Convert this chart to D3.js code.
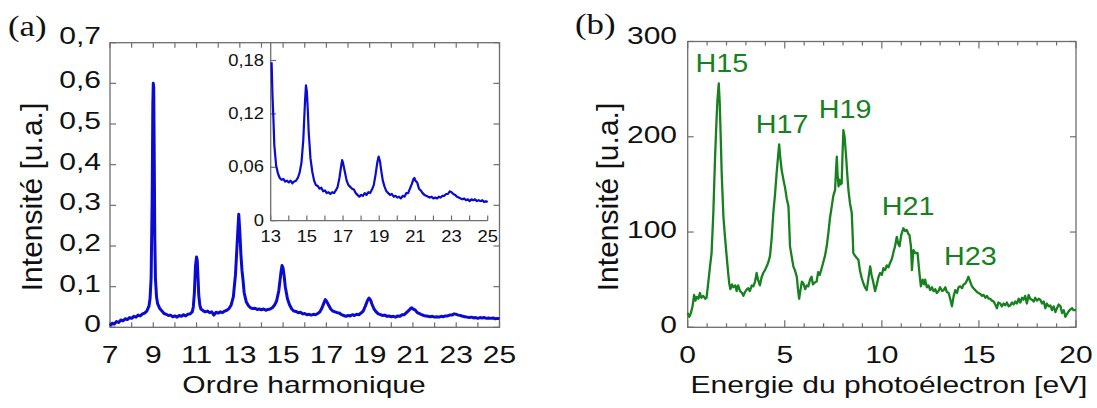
<!DOCTYPE html>
<html><head><meta charset="utf-8">
<script src="https://cdn.jsdelivr.net/npm/d3@7"></script>
<style>body{margin:0;background:#fff}svg{display:block}text{font-family:Arial,"Liberation Sans",sans-serif}</style>
</head><body><svg id="c" width="1097" height="408"></svg>
<script>
// ---------- data ----------
const harmX = [7.0,7.1,7.2,7.3,7.4,7.5,7.6,7.7,7.8,7.9,8.0,8.1,8.2,8.3,8.4,8.5,8.6,8.7,8.8,8.85,8.9,8.95,8.98,9.0,9.02,9.04,9.07,9.1,9.15,9.2,9.3,9.4,9.5,9.6,9.7,9.8,9.9,10.0,10.1,10.2,10.3,10.4,10.5,10.6,10.7,10.8,10.85,10.9,10.95,11.0,11.03,11.07,11.1,11.15,11.2,11.3,11.4,11.5,11.6,11.7,11.8,11.9,12.0,12.1,12.2,12.3,12.4,12.5,12.6,12.7,12.8,12.9,12.95,13.0,13.05,13.1,13.15,13.2,13.3,13.4,13.5,13.6,13.7,13.8,13.9,14.0,14.1,14.2,14.3,14.4,14.5,14.6,14.7,14.8,14.9,14.95,15.0,15.05,15.1,15.2,15.3,15.4,15.5,15.6,15.7,15.8,15.9,16.0,16.1,16.2,16.3,16.4,16.5,16.6,16.7,16.8,16.9,16.95,17.0,17.1,17.2,17.3,17.4,17.5,17.6,17.7,17.8,17.9,18.0,18.1,18.2,18.3,18.4,18.5,18.6,18.7,18.8,18.9,18.97,19.05,19.1,19.2,19.3,19.4,19.5,19.6,19.7,19.8,19.9,20.0,20.1,20.2,20.3,20.4,20.5,20.6,20.7,20.8,20.9,20.95,21.0,21.1,21.2,21.3,21.4,21.5,21.6,21.7,21.8,21.9,22.0,22.1,22.2,22.3,22.4,22.5,22.6,22.7,22.8,22.9,23.0,23.1,23.2,23.3,23.4,23.5,23.6,23.7,23.8,23.9,24.0,24.1,24.2,24.3,24.4,24.5,24.6,24.7,24.8,24.9,25.0];
const harmY = [0.004,0.010,0.008,0.014,0.012,0.018,0.016,0.021,0.019,0.024,0.022,0.027,0.025,0.030,0.028,0.033,0.035,0.040,0.052,0.07,0.12,0.32,0.55,0.60,0.59,0.45,0.22,0.12,0.075,0.058,0.046,0.040,0.034,0.032,0.029,0.030,0.026,0.028,0.025,0.029,0.027,0.031,0.028,0.032,0.033,0.038,0.05,0.085,0.15,0.173,0.165,0.12,0.08,0.055,0.045,0.041,0.038,0.040,0.036,0.038,0.030,0.037,0.035,0.038,0.036,0.040,0.042,0.046,0.055,0.075,0.13,0.23,0.278,0.235,0.178,0.14,0.115,0.085,0.062,0.053,0.048,0.046,0.047,0.044,0.045,0.043,0.045,0.042,0.044,0.045,0.048,0.054,0.065,0.09,0.135,0.152,0.145,0.125,0.1,0.07,0.055,0.045,0.040,0.039,0.036,0.037,0.033,0.034,0.031,0.032,0.030,0.032,0.031,0.034,0.038,0.048,0.062,0.068,0.065,0.055,0.045,0.040,0.038,0.036,0.035,0.031,0.029,0.027,0.029,0.028,0.031,0.029,0.032,0.031,0.035,0.040,0.052,0.066,0.072,0.066,0.058,0.045,0.038,0.033,0.031,0.029,0.030,0.027,0.028,0.026,0.027,0.025,0.028,0.027,0.031,0.031,0.036,0.041,0.047,0.048,0.045,0.043,0.036,0.034,0.031,0.029,0.028,0.027,0.026,0.027,0.025,0.026,0.025,0.027,0.026,0.028,0.028,0.030,0.030,0.033,0.032,0.030,0.029,0.027,0.026,0.025,0.024,0.025,0.023,0.024,0.022,0.024,0.023,0.024,0.022,0.023,0.022,0.023,0.021,0.022,0.021];

const energyX = [0.0,0.08,0.15,0.25,0.33,0.4,0.46,0.55,0.63,0.7,0.8,0.9,0.97,1.05,1.15,1.23,1.32,1.41,1.48,1.53,1.6,1.65,1.7,1.75,1.84,1.92,2.01,2.08,2.14,2.2,2.28,2.35,2.45,2.52,2.6,2.7,2.8,2.87,2.95,3.05,3.12,3.2,3.3,3.38,3.47,3.55,3.62,3.72,3.8,3.89,3.98,4.07,4.15,4.24,4.33,4.41,4.5,4.58,4.65,4.71,4.76,4.84,4.93,5.02,5.1,5.19,5.27,5.35,5.44,5.52,5.62,5.68,5.74,5.8,5.88,5.96,6.05,6.13,6.21,6.3,6.38,6.45,6.55,6.64,6.72,6.8,6.9,6.98,7.07,7.16,7.25,7.33,7.42,7.5,7.59,7.64,7.68,7.72,7.77,7.81,7.87,7.93,7.98,8.02,8.08,8.16,8.22,8.28,8.36,8.45,8.5,8.53,8.62,8.7,8.79,8.87,8.96,9.05,9.13,9.22,9.3,9.4,9.47,9.55,9.65,9.74,9.83,9.91,10.0,10.08,10.17,10.25,10.34,10.43,10.52,10.6,10.68,10.77,10.84,10.91,11.0,11.11,11.2,11.29,11.36,11.42,11.5,11.55,11.6,11.63,11.72,11.84,11.92,12.01,12.1,12.18,12.23,12.32,12.4,12.49,12.58,12.66,12.75,12.83,12.92,13.0,13.1,13.18,13.27,13.35,13.44,13.52,13.61,13.7,13.78,13.87,13.95,14.04,14.13,14.21,14.3,14.38,14.46,14.55,14.64,14.72,14.81,14.9,14.98,15.07,15.16,15.24,15.33,15.41,15.5,15.58,15.67,15.76,15.84,15.93,16.0,16.1,16.18,16.27,16.35,16.44,16.53,16.62,16.7,16.79,16.87,16.96,17.05,17.13,17.22,17.3,17.38,17.47,17.56,17.64,17.73,17.82,17.9,17.99,18.08,18.16,18.25,18.34,18.42,18.5,18.59,18.68,18.76,18.85,18.94,19.02,19.11,19.2,19.28,19.37,19.45,19.54,19.63,19.72,19.8,19.87,20.0];
const energyY = [15,11,14,22,34,28,32,30,36,31,33,30,31,45,64,78,120,179,215,238,256,235,200,162,116,95,74,58,46,40,45,42,44,38,44,38,36,33,37,40,41,38,44,43,48,57,50,44,52,57,60,64,68,75,95,120,140,162,178,192,180,165,155,146,135,127,85,75,64,60,53,40,30,38,48,46,40,44,43,50,53,45,47,48,58,55,62,68,75,85,100,115,127,138,144,165,179,160,148,155,150,151,185,207,200,179,160,144,130,120,95,78,75,73,71,60,52,46,42,39,50,64,55,48,38,45,53,57,55,62,60,65,63,68,72,79,85,95,88,85,97,104,101,102,98,97,85,60,75,81,78,78,60,43,50,45,50,42,44,39,42,38,40,36,38,42,38,39,42,37,36,30,22,33,39,36,42,43,41,45,46,49,53,48,43,41,39,37,36,35,33,34,31,33,30,30,28,27,24,20,26,25,22,25,23,26,22,23,26,24,27,25,30,26,31,29,33,25,34,30,29,27,31,28,30,29,25,27,20,25,22,23,18,22,16,20,24,22,15,18,11,14,17,19,20,18,18];

const harmTickLabels = [7,9,11,13,15,17,19,21,23,25];
const intensTickLabelsA = ["0","0,1","0,2","0,3","0,4","0,5","0,6","0,7"];
const insetXLabels = [13,15,17,19,21,23,25];
const insetYTicks = [0,0.06,0.12,0.18];
const insetYLabels = ["0","0,06","0,12","0,18"];
const energyTickLabels = [0,5,10,15,20];
const intensTickLabelsB = [0,100,200,300];
const peakNames = ["H15","H17","H19","H21","H23"];
const peakNamePos = [[0.4,268],[3.5,204],[6.75,220],[10.0,118],[13.2,65]];

// ---------- drawing ----------
const svg = d3.select("#c");
const FRAME = "#6e6e6e";
const BLUE = "#0a0ad2";
const GREEN = "#17801f";
const SX = 1.25;

function hText(g, x, y, str, size, anchor, sx, color, family){
  const t = g.append("text").attr("transform",`translate(${x},${y}) scale(${sx},1)`)
    .attr("text-anchor",anchor).attr("font-size",size).attr("fill",color||"#111").text(str);
  if(family) t.style("font-family",family);
  return t;
}

function frameAxes(g, x, y, xMinorStep, yTicks, opts){
  const [x0,x1] = x.range(), [y0,y1] = y.range();
  g.append("rect").attr("x",x0).attr("y",y1).attr("width",x1-x0).attr("height",y0-y1)
    .attr("fill","none").attr("stroke",FRAME).attr("stroke-width",1.3);
  const xd = x.domain();
  const minor = d3.range(xd[0], xd[1]+1e-9, xMinorStep);
  minor.forEach(v=>{
    const L = opts.majorEvery && Math.abs(v/opts.majorEvery - Math.round(v/opts.majorEvery))<1e-6 ? opts.majorLen : opts.minorLen;
    g.append("line").attr("x1",x(v)).attr("x2",x(v)).attr("y1",y0).attr("y2",y0-L).attr("stroke",FRAME).attr("stroke-width",1.2);
    g.append("line").attr("x1",x(v)).attr("x2",x(v)).attr("y1",y1).attr("y2",y1+L).attr("stroke",FRAME).attr("stroke-width",1.2);
  });
  yTicks.forEach(v=>{
    g.append("line").attr("x1",x0).attr("x2",x0+opts.yLen).attr("y1",y(v)).attr("y2",y(v)).attr("stroke",FRAME).attr("stroke-width",1.2);
    g.append("line").attr("x1",x1).attr("x2",x1-opts.yLen).attr("y1",y(v)).attr("y2",y(v)).attr("stroke",FRAME).attr("stroke-width",1.2);
  });
}

// ===== Panel (a) =====
const xa = d3.scaleLinear().domain([7,25]).range([110,499.5]);
const ya = d3.scaleLinear().domain([0,0.7]).range([327.3,42.7]);
const ga = svg.append("g");
const yTicksA = d3.range(0,0.7001,0.1);
frameAxes(ga, xa, ya, 1, yTicksA, {minorLen:5, majorLen:5, yLen:6});
const ptsA = harmX.map((v,i)=>[v,harmY[i]]);
ga.append("path").datum(ptsA).attr("fill","none").attr("stroke",BLUE).attr("stroke-width",3)
  .attr("stroke-linejoin","round")
  .attr("d", d3.line().x(d=>xa(d[0])).y(d=>ya(d[1])));
harmTickLabels.forEach(v=> hText(ga, xa(v), 363, String(v), 24, "middle", SX));
yTicksA.forEach((v,i)=> hText(ga, 101, ya(v)+5 - (i===7?4:0), intensTickLabelsA[i], 24, "end", SX));
hText(ga, 304, 393, "Ordre harmonique", 24, "middle", SX);
ga.append("text").attr("transform","translate(42,197) rotate(-90)").attr("text-anchor","middle")
  .attr("font-size",30).attr("fill","#111").text("Intensité [u.a.]");
hText(ga, 8, 36, "(a)", 29, "start", 1.2, "#111", "'Liberation Serif','Times New Roman',serif");

// inset
const xi = d3.scaleLinear().domain([13,25]).range([270.7,487.7]);
const yi = d3.scaleLinear().domain([0,0.2]).range([220.7,42.7]);
const gi = svg.append("g");
gi.append("line").attr("x1",270.7).attr("x2",270.7).attr("y1",42.7).attr("y2",220.7).attr("stroke",FRAME).attr("stroke-width",1.3);
gi.append("line").attr("x1",270.7).attr("x2",487.7).attr("y1",220.7).attr("y2",220.7).attr("stroke",FRAME).attr("stroke-width",1.3);
d3.range(13,25.001,1).forEach(v=>{
  gi.append("line").attr("x1",xi(v)).attr("x2",xi(v)).attr("y1",220.7).attr("y2",215.5).attr("stroke",FRAME).attr("stroke-width",1.2);
});
insetYTicks.forEach(v=>{
  gi.append("line").attr("x1",270.7).attr("x2",276).attr("y1",yi(v)).attr("y2",yi(v)).attr("stroke",FRAME).attr("stroke-width",1.2);
});
const ptsI = ptsA.filter(d=>d[0]>=13.04);
gi.append("path").datum(ptsI).attr("fill","none").attr("stroke",BLUE).attr("stroke-width",2.2)
  .attr("stroke-linejoin","round")
  .attr("d", d3.line().x(d=>xi(d[0])).y(d=>yi(Math.min(d[1],0.2))));
insetXLabels.forEach(v=> hText(gi, xi(v), 242, String(v), 16, "middle", 1.15));
insetYTicks.forEach((v,i)=> hText(gi, 264, yi(v)+5, insetYLabels[i], 16, "end", 1.15));

// ===== Panel (b) =====
const xb = d3.scaleLinear().domain([0,20]).range([687.7,1076]);
const yb = d3.scaleLinear().domain([0,300]).range([327.3,41.5]);
const gb = svg.append("g");
frameAxes(gb, xb, yb, 1, [0,100,200,300], {minorLen:4, majorLen:7, majorEvery:5, yLen:6});
const ptsB = energyX.map((v,i)=>[v,energyY[i]]);
gb.append("path").datum(ptsB).attr("fill","none").attr("stroke",GREEN).attr("stroke-width",2.3)
  .attr("stroke-linejoin","round")
  .attr("d", d3.line().x(d=>xb(d[0])).y(d=>yb(d[1])));
energyTickLabels.forEach(v=> hText(gb, xb(v), 363, String(v), 24, "middle", SX));
intensTickLabelsB.forEach((v,i)=> hText(gb, 677, yb(v)+6 - (i===3?4:0), String(v), 24, "end", SX));
hText(gb, 889, 393, "Energie du photoélectron [eV]", 24, "middle", SX);
gb.append("text").attr("transform","translate(618,197) rotate(-90)").attr("text-anchor","middle")
  .attr("font-size",30).attr("fill","#111").text("Intensité [u.a.]");
hText(gb, 575, 34, "(b)", 29, "start", 1.2, "#111", "'Liberation Serif','Times New Roman',serif");
peakNames.forEach((n,i)=> hText(gb, xb(peakNamePos[i][0]), yb(peakNamePos[i][1]), n, 25, "start", 1.15, GREEN));
</script>
</body></html>
